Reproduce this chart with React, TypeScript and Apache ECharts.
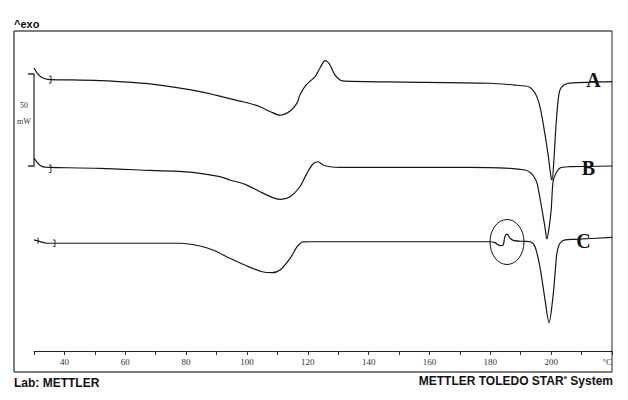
import React, { useEffect, useRef } from "react";
import * as echarts from "echarts";

// Temperature (°C) and heat flow (mW, relative, offset per curve)
const tempA = [30.0, 31.3, 32.6, 33.9, 35.3, 51.7, 68.1, 84.6, 97.7, 101.0, 104.3, 107.6, 110.9, 114.2, 116.5, 117.4, 119.4, 122.4, 124.0, 125.7, 126.6, 127.3, 128.9, 130.6, 132.2, 147.0, 179.9, 188.1, 191.4, 193.1, 194.7, 196.0, 197.0, 198.0, 199.0, 200.0, 200.3, 200.9, 201.6, 202.3, 202.9, 204.2, 206.2, 220.0];
const flowA = [153.9, 150.6, 148.7, 147.9, 147.6, 147.0, 145.2, 141.0, 135.9, 134.6, 132.8, 130.2, 128.2, 130.5, 134.9, 139.2, 144.6, 149.2, 153.9, 157.9, 157.1, 155.5, 150.1, 147.4, 146.7, 146.3, 145.6, 144.6, 144.1, 143.3, 140.3, 134.9, 127.2, 117.5, 106.6, 94.1, 93.0, 103.9, 122.9, 136.5, 141.9, 144.6, 145.7, 146.5];

const tempB = [30.0, 31.3, 32.6, 33.9, 35.3, 51.7, 68.1, 81.3, 91.1, 94.4, 99.4, 104.3, 109.2, 111.2, 114.2, 117.4, 119.7, 121.7, 123.4, 125.0, 127.3, 130.6, 173.3, 186.5, 191.4, 193.1, 194.4, 195.4, 197.0, 198.0, 198.6, 199.3, 200.0, 200.6, 201.3, 202.9, 206.2, 220.0];
const flowB = [104.9, 102.0, 100.3, 99.9, 99.8, 99.3, 98.2, 97.3, 94.8, 93.0, 90.6, 86.6, 83.0, 82.5, 83.9, 89.3, 96.6, 101.7, 102.9, 101.1, 100.2, 99.9, 99.9, 99.3, 98.4, 97.1, 94.6, 91.0, 76.7, 66.9, 60.9, 66.9, 76.7, 91.9, 95.7, 99.5, 100.2, 100.6];

const tempC = [30.0, 32.0, 34.3, 36.9, 61.6, 78.0, 84.6, 89.5, 94.4, 101.0, 105.0, 108.2, 110.9, 114.2, 116.5, 118.4, 120.7, 179.9, 181.5, 183.2, 184.2, 184.8, 185.5, 186.5, 187.8, 191.4, 193.1, 194.7, 196.3, 198.0, 199.3, 200.6, 201.3, 201.9, 202.9, 204.6, 207.8, 220.0];
const flowC = [60.4, 59.5, 58.6, 58.6, 58.6, 58.6, 57.1, 54.5, 50.4, 45.5, 43.1, 42.6, 44.0, 50.4, 56.7, 59.3, 59.4, 59.4, 58.9, 57.3, 57.6, 62.2, 63.5, 61.3, 60.0, 59.6, 59.4, 56.7, 45.8, 27.7, 15.4, 29.5, 42.4, 53.3, 58.6, 60.4, 60.7, 61.8];

const curveNames = ["A", "B", "C"];
const xMin = 30;
const xMax = 220;
const yMin = 0;
const yMax = 174;

const zip = (t: number[], f: number[]) => t.map((v, i) => [v, f[i]]);

export default function App() {
  const ref = useRef<HTMLDivElement>(null);
  useEffect(() => {
    if (!ref.current) return;
    const chart = echarts.init(ref.current, null, { renderer: "svg" });
    const lineStyle = { color: "#151515", width: 1.2 };
    const datasets = [zip(tempA, flowA), zip(tempB, flowB), zip(tempC, flowC)];
    const serif = "'Liberation Serif', 'Times New Roman', serif";
    const sans = "'Liberation Sans', Arial, sans-serif";
    chart.setOption({
      animation: false,
      backgroundColor: "#ffffff",
      grid: { left: 34, right: 16, top: 31, bottom: 49 },
      xAxis: {
        type: "value",
        min: xMin,
        max: xMax,
        interval: 10,
        splitLine: { show: false },
        axisLine: { show: true, lineStyle: { color: "#222", width: 1 } },
        axisTick: { show: true, length: 4, lineStyle: { color: "#333" } },
        axisLabel: {
          margin: 6,
          fontFamily: serif,
          fontSize: 9,
          color: "#333",
          alignMaxLabel: "right",
          formatter: (v: number) =>
            v === 220 ? "°C" : v >= 40 && v <= 200 && v % 20 === 0 ? String(v) : "",
        },
      },
      yAxis: { type: "value", min: yMin, max: yMax, show: false },
      series: datasets.map((d, i) => ({
        name: curveNames[i],
        type: "line",
        data: d,
        symbol: "none",
        smooth: 0.3,
        lineStyle,
      })),
      graphic: [
        { type: "line", shape: { x1: 14, y1: 31, x2: 14, y2: 372 }, style: { stroke: "#7d7d7d", lineWidth: 2 } },
        { type: "line", shape: { x1: 14, y1: 31, x2: 612, y2: 31 }, style: { stroke: "#555", lineWidth: 1.5 } },
        { type: "line", shape: { x1: 612, y1: 31, x2: 612, y2: 372 }, style: { stroke: "#222", lineWidth: 1 } },
        { type: "line", shape: { x1: 14, y1: 372, x2: 612, y2: 372 }, style: { stroke: "#555", lineWidth: 1.5 } },
        { type: "text", style: { x: 14, y: 23.5, text: "^exo", font: `bold 11px ${sans}`, fill: "#111", verticalAlign: "middle" } },
        { type: "text", style: { x: 14, y: 382.5, text: "Lab: METTLER", font: `bold 12px ${sans}`, fill: "#111", verticalAlign: "middle" } },
        {
          type: "text",
          style: {
            x: 613,
            y: 381,
            align: "right",
            verticalAlign: "middle",
            text: "{a|METTLER TOLEDO STAR}{s|e}{a| System}",
            rich: {
              a: { font: `bold 12px ${sans}`, fill: "#111", lineHeight: 14 },
              s: { font: `bold 6px ${sans}`, fill: "#111", verticalAlign: "top", lineHeight: 14 },
            },
          },
        },
        { type: "polyline", shape: { points: [[28, 74], [34, 74], [34, 166], [28, 166]] }, style: { stroke: "#333", lineWidth: 1.3, fill: "none" } },
        { type: "text", style: { x: 24, y: 105, text: "50", font: `8px ${serif}`, fill: "#333", align: "center", verticalAlign: "middle" } },
        { type: "text", style: { x: 24, y: 121, text: "mW", font: `8px ${serif}`, fill: "#333", align: "center", verticalAlign: "middle" } },
        { type: "polyline", shape: { points: [[49, 76], [51, 76], [51, 83], [49, 83]] }, style: { stroke: "#333", lineWidth: 1, fill: "none" } },
        { type: "polyline", shape: { points: [[49, 165], [51, 165], [51, 172.5], [49, 172.5]] }, style: { stroke: "#333", lineWidth: 1, fill: "none" } },
        { type: "polyline", shape: { points: [[53, 240], [55, 240], [55, 246.5], [53, 246.5]] }, style: { stroke: "#333", lineWidth: 1, fill: "none" } },
        { type: "line", shape: { x1: 38, y1: 237.5, x2: 38, y2: 244 }, style: { stroke: "#333", lineWidth: 1 } },
        { type: "ellipse", shape: { cx: 507, cy: 242, rx: 17, ry: 22.5 }, style: { stroke: "#111", lineWidth: 1, fill: "none" } },
        { type: "text", style: { x: 593.5, y: 80, text: "A", font: `bold 20px ${serif}`, fill: "#111", align: "center", verticalAlign: "middle" } },
        { type: "text", style: { x: 588.5, y: 167.5, text: "B", font: `bold 20px ${serif}`, fill: "#111", align: "center", verticalAlign: "middle" } },
        { type: "text", style: { x: 583.5, y: 241, text: "C", font: `bold 20px ${serif}`, fill: "#111", align: "center", verticalAlign: "middle" } },
      ],
    });
    return () => chart.dispose();
  }, []);
  return (
    <div
      ref={ref}
      style={{ position: "fixed", left: 0, top: 0, width: 628, height: 400, background: "#fff" }}
    />
  );
}
